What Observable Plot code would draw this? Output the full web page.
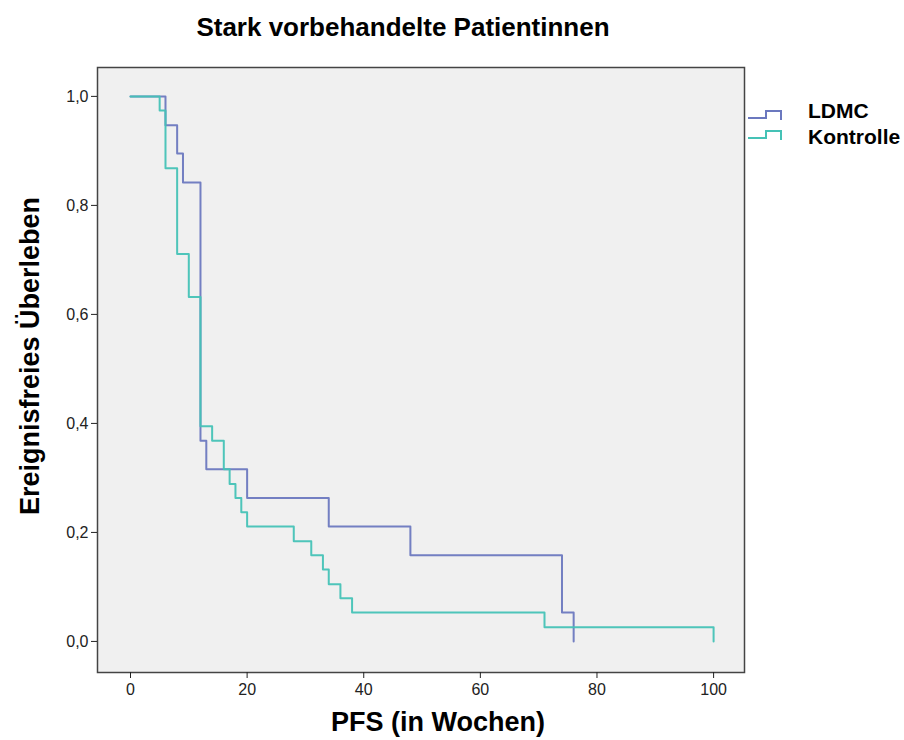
<!DOCTYPE html>
<html><head><meta charset="utf-8">
<script src="https://cdn.jsdelivr.net/npm/d3@7"></script>
<script src="https://cdn.jsdelivr.net/npm/@observablehq/plot@0.6"></script>
<style>
body{margin:0;background:#fff;font-family:"Liberation Sans",Arial,sans-serif;}
#wrap{position:relative;width:904px;height:740px;}
.lbl{position:absolute;font-weight:bold;color:#000;white-space:nowrap;}
</style></head>
<body><div id="wrap"></div>
<script>
const title = "Stark vorbehandelte Patientinnen";
const xLabel = "PFS (in Wochen)";
const yLabel = "Ereignisfreies Überleben";
const seriesNames = ["LDMC", "Kontrolle"];
const seriesColors = ["#6b78bf", "#45c2b6"];
const xTicks = [0, 20, 40, 60, 80, 100];
const yTicks = [0, 0.2, 0.4, 0.6, 0.8, 1.0];

const ldmcTime = [0, 6, 8, 9, 12, 13, 20, 34, 48, 74, 76];
const ldmcSurv = [1.0, 0.947, 0.895, 0.842, 0.368, 0.316, 0.263, 0.211, 0.158, 0.053, 0.0];
const kontrTime = [0, 5, 6, 8, 10, 12, 14, 16, 17, 18, 19, 20, 28, 31, 33, 34, 36, 38, 71, 100];
const kontrSurv = [1.0, 0.974, 0.868, 0.711, 0.632, 0.395, 0.368, 0.316, 0.289, 0.263, 0.237, 0.211, 0.184, 0.158, 0.132, 0.105, 0.079, 0.053, 0.026, 0.0];

const data = [
  ...ldmcTime.map((t, i) => ({t, s: ldmcSurv[i], g: seriesNames[0]})),
  ...kontrTime.map((t, i) => ({t, s: kontrSurv[i], g: seriesNames[1]}))
];

const fmt = d => d.toFixed(1).replace(".", ",");

const chart = Plot.plot({
  width: 904, height: 740,
  marginLeft: 97, marginRight: 160, marginTop: 67, marginBottom: 68,
  style: {background: "transparent", fontFamily: "'Liberation Sans', Arial, sans-serif"},
  x: {domain: [-5.66, 105.3]},
  y: {domain: [-0.057, 1.053]},
  color: {domain: seriesNames, range: seriesColors},
  marks: [
    Plot.frame({fill: "#f0f0f0", stroke: null}),
    Plot.line(data, {x: "t", y: "s", z: "g", stroke: "g", curve: "step-after", strokeWidth: 2, strokeOpacity: 0.95}),
    Plot.frame({stroke: "#444", strokeWidth: 1.5}),
    Plot.axisX({ticks: xTicks, tickSize: 6, tickPadding: 5, fontSize: 16, stroke: "#222", color: "#222", label: null}),
    Plot.axisY({ticks: yTicks, tickSize: 6, tickPadding: 3, fontSize: 16, tickFormat: fmt, stroke: "#222", color: "#222", label: null})
  ]
});
const wrap = document.getElementById("wrap");
wrap.appendChild(chart);

function addLabel(text, css) {
  const d = document.createElement("div");
  d.className = "lbl";
  d.textContent = text;
  Object.assign(d.style, css);
  wrap.appendChild(d);
  return d;
}
addLabel(title, {left: "403px", top: "27px", fontSize: "26px", transform: "translate(-50%,-50%)"});
addLabel(xLabel, {left: "438px", top: "722px", fontSize: "27px", transform: "translate(-50%,-50%)"});
addLabel(yLabel, {left: "30px", top: "356px", fontSize: "27px", transform: "translate(-50%,-50%) rotate(-90deg)"});

// legend
const ns = "http://www.w3.org/2000/svg";
seriesNames.forEach((name, i) => {
  const svg = document.createElementNS(ns, "svg");
  svg.setAttribute("width", 40); svg.setAttribute("height", 18);
  svg.style.position = "absolute";
  svg.style.left = "746px"; svg.style.top = (106 + i * 20) + "px";
  const p = document.createElementNS(ns, "path");
  p.setAttribute("d", "M2,12 H20 V5 H35 V14");
  p.setAttribute("fill", "none");
  p.setAttribute("stroke", seriesColors[i]);
  p.setAttribute("stroke-width", 2);
  svg.appendChild(p);
  wrap.appendChild(svg);
  addLabel(name, {left: "808px", top: (111 + i * 26) + "px", fontSize: "21px", transform: "translate(0,-50%)"});
});
</script>
</body></html>
